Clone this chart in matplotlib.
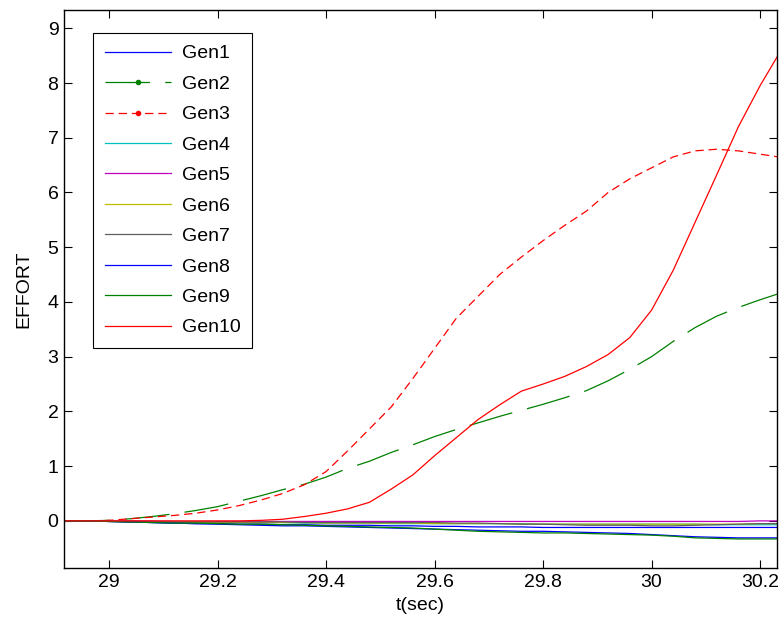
import matplotlib
matplotlib.use("Agg")
import matplotlib.pyplot as plt
from matplotlib.lines import Line2D

plt.rcParams['font.family'] = ['Liberation Sans', 'DejaVu Sans']
plt.rcParams['lines.scale_dashes'] = False

# sample times (sec)
t = [28.92, 28.96, 29.00, 29.04, 29.08, 29.12, 29.16, 29.20, 29.24, 29.28,
     29.32, 29.36, 29.40, 29.44, 29.48, 29.52, 29.56, 29.60, 29.64, 29.68,
     29.72, 29.76, 29.80, 29.84, 29.88, 29.92, 29.96, 30.00, 30.04, 30.08,
     30.12, 30.16, 30.20, 30.24]

gen1 = [0, 0, -0.01, -0.02, -0.03, -0.04, -0.05, -0.06, -0.07, -0.08,
        -0.09, -0.09, -0.10, -0.11, -0.12, -0.13, -0.14, -0.15, -0.16, -0.17,
        -0.18, -0.19, -0.19, -0.20, -0.21, -0.22, -0.23, -0.25, -0.27, -0.29,
        -0.30, -0.31, -0.31, -0.31]
gen2 = [0, 0, 0.01, 0.04, 0.08, 0.13, 0.19, 0.26, 0.36, 0.46,
        0.57, 0.67, 0.80, 0.96, 1.09, 1.25, 1.39, 1.54, 1.67, 1.79,
        1.91, 2.02, 2.13, 2.25, 2.38, 2.56, 2.77, 3.00, 3.28, 3.53,
        3.74, 3.90, 4.04, 4.17]
gen3 = [0, 0, 0.01, 0.04, 0.07, 0.10, 0.14, 0.20, 0.28, 0.38,
        0.50, 0.66, 0.90, 1.28, 1.68, 2.08, 2.60, 3.15, 3.70, 4.10,
        4.50, 4.82, 5.12, 5.40, 5.66, 6.00, 6.25, 6.45, 6.65, 6.76,
        6.79, 6.76, 6.70, 6.64]
gen4 = [0, 0, -0.01, -0.01, -0.02, -0.02, -0.02, -0.03, -0.03, -0.03,
        -0.03, -0.04, -0.04, -0.04, -0.04, -0.05, -0.05, -0.05, -0.05, -0.05,
        -0.05, -0.05, -0.06, -0.06, -0.06, -0.06, -0.06, -0.06, -0.06, -0.06,
        -0.07, -0.07, -0.07, -0.07]
gen5 = [0, 0, 0, 0, -0.005, -0.01, -0.01, -0.01, -0.01, -0.01,
        -0.01, -0.01, -0.01, -0.01, -0.01, -0.01, -0.01, -0.01, -0.01, -0.01,
        -0.01, -0.01, -0.01, -0.01, -0.01, -0.01, -0.01, -0.01, -0.01, -0.01,
        -0.01, -0.01, 0.0, 0.0]
gen6 = [0, 0, -0.01, -0.01, -0.02, -0.02, -0.02, -0.03, -0.03, -0.03,
        -0.03, -0.03, -0.04, -0.04, -0.04, -0.04, -0.04, -0.05, -0.05, -0.05,
        -0.05, -0.06, -0.06, -0.06, -0.06, -0.06, -0.06, -0.06, -0.06, -0.06,
        -0.06, -0.06, -0.05, -0.05]
gen7 = [0, 0, -0.01, -0.01, -0.01, -0.02, -0.02, -0.02, -0.02, -0.02,
        -0.02, -0.03, -0.03, -0.03, -0.03, -0.03, -0.03, -0.03, -0.04, -0.04,
        -0.05, -0.06, -0.06, -0.07, -0.08, -0.08, -0.08, -0.09, -0.09, -0.08,
        -0.07, -0.06, -0.05, -0.05]
gen8 = [0, 0, -0.01, -0.02, -0.03, -0.04, -0.05, -0.05, -0.06, -0.06,
        -0.07, -0.07, -0.08, -0.08, -0.08, -0.09, -0.09, -0.10, -0.10, -0.11,
        -0.11, -0.11, -0.12, -0.12, -0.12, -0.12, -0.12, -0.12, -0.12, -0.12,
        -0.12, -0.12, -0.12, -0.12]
gen9 = [0, 0, -0.01, -0.02, -0.03, -0.04, -0.04, -0.05, -0.06, -0.06,
        -0.07, -0.08, -0.09, -0.10, -0.11, -0.12, -0.13, -0.15, -0.17, -0.19,
        -0.20, -0.21, -0.22, -0.22, -0.23, -0.24, -0.25, -0.26, -0.28, -0.31,
        -0.32, -0.33, -0.33, -0.33]
gen10 = [0, 0, 0, 0, 0, 0, 0, 0, 0, 0.01,
         0.03, 0.08, 0.14, 0.22, 0.34, 0.58, 0.84, 1.19, 1.52, 1.85,
         2.12, 2.37, 2.50, 2.64, 2.82, 3.04, 3.35, 3.85, 4.58, 5.45,
         6.32, 7.20, 7.95, 8.62]

names = ['Gen1', 'Gen2', 'Gen3', 'Gen4', 'Gen5',
         'Gen6', 'Gen7', 'Gen8', 'Gen9', 'Gen10']
series = [gen1, gen2, gen3, gen4, gen5, gen6, gen7, gen8, gen9, gen10]

# matlab default colour order
colors = ['#0000ff', '#008000', '#ff0000', '#00bfbf', '#bf00bf',
          '#bfbf00', '#606060', '#0000ff', '#008000', '#ff0000']
dashes = {1: (32, 11), 2: (6, 3.5)}
markers = {1: '.', 2: '.'}

fig = plt.figure(figsize=(7.8, 6.26), dpi=100)
ax = fig.add_axes([0.082, 0.0927, 0.914, 0.891])

handles = []
for i, (name, y) in enumerate(zip(names, series)):
    kw = dict(color=colors[i], lw=0.9)
    if i in dashes:
        kw['dashes'] = dashes[i]
    ax.plot(t, y, **kw)
    handles.append(Line2D([], [], marker=markers.get(i, None), markersize=6, **kw))

ax.set_xlim(28.917, 30.231)
ax.set_ylim(-0.86, 9.33)
ax.set_xticks([29, 29.2, 29.4, 29.6, 29.8, 30, 30.2])
ax.set_xticklabels(['29', '29.2', '29.4', '29.6', '29.8', '30', '30.2'])
ax.set_yticks(range(0, 10))
ax.tick_params(direction='in', length=6, width=0.8, top=True, right=True,
               labelsize=14, pad=4)
for s in ax.spines.values():
    s.set_linewidth(1.0)

ax.set_xlabel('t(sec)', fontsize=14, labelpad=5)
ax.set_ylabel('EFFORT', fontsize=14, labelpad=11)

leg = ax.legend(handles, names, loc='upper left',
                bbox_to_anchor=(0.0407, 0.9588), borderaxespad=0,
                fontsize=14, fancybox=False, edgecolor='black', framealpha=1,
                handlelength=3.4, handletextpad=0.56, labelspacing=0.66,
                borderpad=0.6, numpoints=1)
leg.get_frame().set_linewidth(0.8)

fig.savefig('out.png', dpi=100)
